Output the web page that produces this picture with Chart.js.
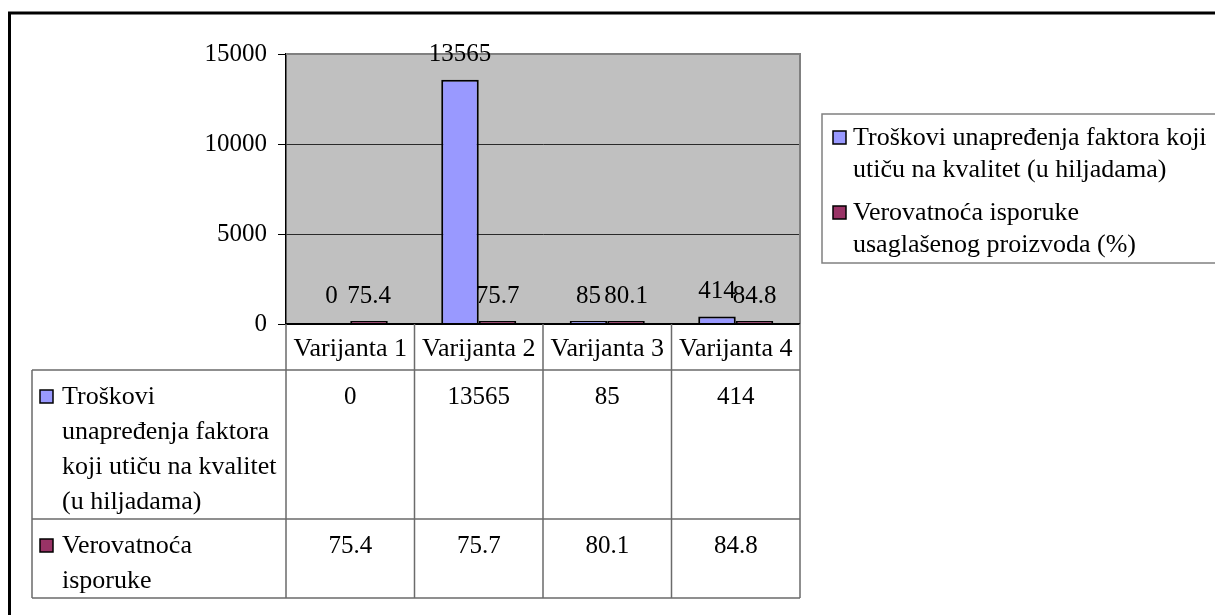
<!DOCTYPE html>
<html lang="sr">
<head>
<meta charset="UTF-8">
<title>Varijante</title>
<script src="https://cdn.jsdelivr.net/npm/chart.js"></script>
<style>
  html, body { margin: 0; padding: 0; background: #fff; }
  #chart { display: block; }
</style>
</head>
<body>
<canvas id="chart" width="1215" height="615"></canvas>
<script>
// podaci
const categories = ['Varijanta 1', 'Varijanta 2', 'Varijanta 3', 'Varijanta 4'];
const troskovi = [0, 13565, 85, 414];
const verovatnoca = [75.4, 75.7, 80.1, 84.8];
const yTicks = [0, 5000, 10000, 15000];
const legendLines = [
    ['Troškovi unapređenja faktora koji', 'utiču na kvalitet (u hiljadama)'],
    ['Verovatnoća isporuke', 'usaglašenog proizvoda (%)']
];
const tableRowLines = [
    ['Troškovi', 'unapređenja faktora', 'koji utiču na kvalitet', '(u hiljadama)'],
    ['Verovatnoća', 'isporuke']
];
const colors = ['#9999FF', '#993366'];

const FONT = '"Liberation Serif", "Times New Roman", serif';
const NUM_SIZE = 25;
const TXT_SIZE = 26;
Chart.defaults.font.family = FONT;
Chart.defaults.color = '#000';

function marker(ctx, x, y, color) {
    ctx.fillStyle = color;
    ctx.fillRect(x, y, 13, 13);
    ctx.strokeStyle = '#000';
    ctx.lineWidth = 1.5;
    ctx.strokeRect(x, y, 13, 13);
}

// fondo gris del area
const plotBg = {
    id: 'plotBg',
    beforeDraw(chart) {
        const { ctx, chartArea: a } = chart;
        ctx.save();
        ctx.fillStyle = '#C0C0C0';
        ctx.fillRect(a.left, a.top, a.right - a.left, a.bottom - a.top);
        ctx.restore();
    },
    afterDatasetsDraw(chart) {
        const { ctx, chartArea: a } = chart;
        ctx.save();
        // borde del area
        ctx.strokeStyle = '#808080';
        ctx.lineWidth = 2;
        ctx.beginPath();
        ctx.moveTo(a.left, a.top);
        ctx.lineTo(a.right, a.top);
        ctx.lineTo(a.right, a.bottom);
        ctx.stroke();
        ctx.strokeStyle = '#000';
        ctx.lineWidth = 2;
        ctx.beginPath();
        ctx.moveTo(a.left, a.bottom);
        ctx.lineTo(a.right, a.bottom);
        ctx.stroke();

        // etiquetas de valores
        ctx.font = NUM_SIZE + 'px ' + FONT;
        ctx.fillStyle = '#000';
        ctx.textAlign = 'center';
        ctx.textBaseline = 'middle';
        chart.data.datasets.forEach((ds, i) => {
            chart.getDatasetMeta(i).data.forEach((el, j) => {
                ctx.fillText(String(ds.data[j]), el.x, el.y - 25);
            });
        });
        ctx.restore();
    }
};

// tabla de datos + leyenda + marco
const dataTable = {
    id: 'dataTable',
    afterDraw(chart) {
        const { ctx, chartArea: a } = chart;
        const xs = chart.scales.x;
        const half = (xs.getPixelForValue(1) - xs.getPixelForValue(0)) / 2;
        const tableLeft = 32;
        const headBottom = a.bottom + 46;
        const row1Bottom = headBottom + 149;
        const row2Bottom = row1Bottom + 79;

        ctx.save();
        ctx.strokeStyle = '#6b6b6b';
        ctx.lineWidth = 1.5;
        ctx.beginPath();
        [headBottom, row1Bottom, row2Bottom].forEach(y => {
            ctx.moveTo(tableLeft, y);
            ctx.lineTo(a.right, y);
        });
        ctx.moveTo(tableLeft, headBottom);
        ctx.lineTo(tableLeft, row2Bottom);
        categories.forEach((c, i) => {
            const x = xs.getPixelForValue(i) - half;
            ctx.moveTo(x, a.bottom);
            ctx.lineTo(x, row2Bottom);
        });
        ctx.moveTo(a.right, a.bottom);
        ctx.lineTo(a.right, row2Bottom);
        ctx.stroke();

        ctx.fillStyle = '#000';
        ctx.textBaseline = 'middle';
        ctx.font = TXT_SIZE + 'px ' + FONT;
        ctx.textAlign = 'center';
        categories.forEach((c, i) => {
            ctx.fillText(c, xs.getPixelForValue(i), a.bottom + 25);
        });

        const rows = [troskovi, verovatnoca];
        const rowTops = [headBottom, row1Bottom];
        rows.forEach((vals, r) => {
            const y0 = rowTops[r] + 27;
            ctx.font = NUM_SIZE + 'px ' + FONT;
            ctx.textAlign = 'center';
            ctx.fillStyle = '#000';
            vals.forEach((v, i) => ctx.fillText(String(v), xs.getPixelForValue(i), y0));
            marker(ctx, 40, y0 - 7, colors[r]);
            ctx.font = TXT_SIZE + 'px ' + FONT;
            ctx.textAlign = 'left';
            ctx.fillStyle = '#000';
            tableRowLines[r].forEach((t, k) => ctx.fillText(t, 62, y0 + k * 35));
        });

        // leyenda
        ctx.strokeStyle = '#808080';
        ctx.lineWidth = 1.5;
        ctx.strokeRect(822, 114, 420, 149);
        const legendY = [138, 213];
        legendLines.forEach((lines, r) => {
            marker(ctx, 833, legendY[r] - 7, colors[r]);
            ctx.font = TXT_SIZE + 'px ' + FONT;
            ctx.textAlign = 'left';
            ctx.fillStyle = '#000';
            lines.forEach((t, k) => ctx.fillText(t, 853, legendY[r] + k * 32));
        });

        // marco exterior
        ctx.strokeStyle = '#000';
        ctx.lineWidth = 3;
        ctx.beginPath();
        ctx.moveTo(1220, 13);
        ctx.lineTo(9.5, 13);
        ctx.lineTo(9.5, 620);
        ctx.stroke();
        ctx.restore();
    }
};

const zeroHidden = c => (c.raw === 0 ? 'rgba(0,0,0,0)' : null);

new Chart(document.getElementById('chart'), {
    type: 'bar',
    data: {
        labels: categories,
        datasets: [{
            label: legendLines[0].join(' '),
            data: troskovi,
            backgroundColor: c => zeroHidden(c) || colors[0],
            borderColor: c => zeroHidden(c) || '#000',
            borderWidth: 2,
            minBarLength: 3
        }, {
            label: legendLines[1].join(' '),
            data: verovatnoca,
            backgroundColor: colors[1],
            borderColor: '#000',
            borderWidth: 2,
            minBarLength: 3
        }]
    },
    options: {
        responsive: false,
        devicePixelRatio: 1,
        animation: false,
        layout: { padding: { top: 54, right: 415, bottom: 291, left: 0 } },
        datasets: { bar: { categoryPercentage: 0.584, barPercentage: 1 } },
        plugins: { legend: { display: false }, tooltip: { enabled: false } },
        scales: {
            x: { display: false },
            y: {
                min: yTicks[0],
                max: yTicks[yTicks.length - 1],
                afterFit: s => { s.width = 286; },
                afterBuildTicks: s => { s.ticks = yTicks.map(v => ({ value: v })); },
                ticks: {
                    font: { size: NUM_SIZE },
                    color: '#000',
                    padding: 11,
                    callback: v => String(v)
                },
                grid: {
                    color: c => (c.tick && c.tick.value === 15000 ? '#808080' : '#2a2a2a'),
                    tickColor: '#000',
                    tickLength: 8,
                    lineWidth: 1
                },
                border: { color: '#000', width: 1.5 }
            }
        }
    },
    plugins: [plotBg, dataTable]
});
</script>
</body>
</html>
